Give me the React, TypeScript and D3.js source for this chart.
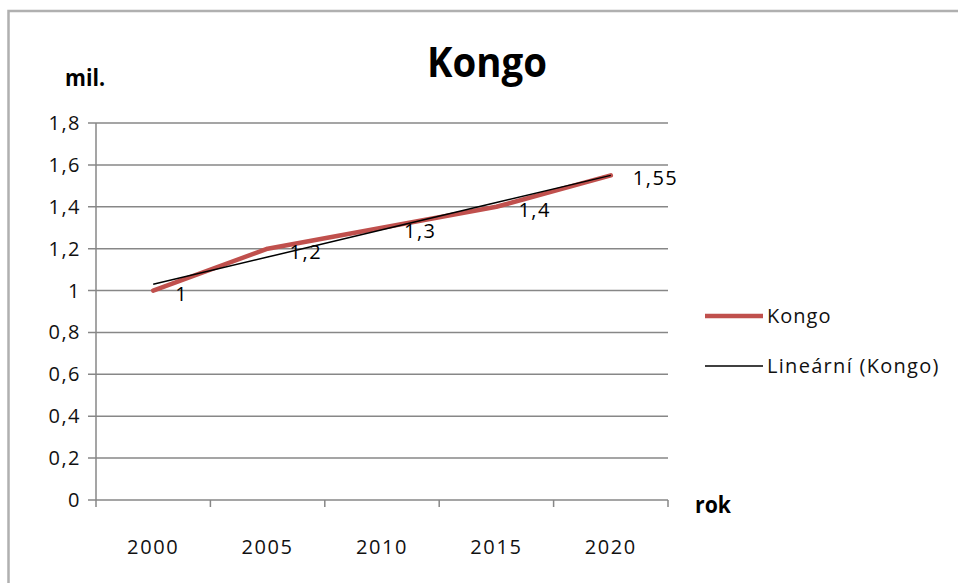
import React from "react";
import * as d3 from "d3";

const categories = ["2000", "2005", "2010", "2015", "2020"];
const values = [1, 1.2, 1.3, 1.4, 1.55];
const labels = ["1", "1,2", "1,3", "1,4", "1,55"];
const yTicks = [0, 0.2, 0.4, 0.6, 0.8, 1, 1.2, 1.4, 1.6, 1.8];
const seriesName = "Kongo";
const trendName = "Lineární (Kongo)";

const W = 958;
const H = 583;
const plot = { left: 96, right: 668, top: 123, bottom: 500 };
const FONT = "'Open Sans', 'Liberation Sans', sans-serif";

export default function App() {
  const x = d3
    .scaleBand<string>()
    .domain(categories)
    .range([plot.left, plot.right])
    .paddingInner(0)
    .paddingOuter(0);
  const y = d3.scaleLinear().domain([0, 1.8]).range([plot.bottom, plot.top]);
  const cx = (c: string) => (x(c) as number) + x.bandwidth() / 2;
  const fmt = (v: number) => (Math.round(v * 10) / 10).toString().replace(".", ",");

  // linear trend
  const xs = values.map((_, i) => i + 1);
  const mx = d3.mean(xs) as number;
  const my = d3.mean(values) as number;
  const slope =
    d3.sum(xs.map((xi, i) => (xi - mx) * (values[i] - my))) /
    d3.sum(xs.map((xi) => (xi - mx) ** 2));
  const intercept = my - slope * mx;
  const trend = xs.map((xi) => intercept + slope * xi);

  const line = d3
    .line<number>()
    .x((_, i) => cx(categories[i]))
    .y((d) => y(d));

  const boundaries = [...categories.map((c) => x(c) as number), plot.right];

  return (
    <svg
      width={W}
      height={H}
      style={{ position: "absolute", left: 0, top: 0, background: "#fff" }}
    >
      <rect x={8.5} y={11} width={W + 20} height={H + 20} fill="#fff" stroke="#b0b0b0" strokeWidth={2.5} />
      {yTicks.map((t) => (
        <line
          key={t}
          x1={plot.left - 8}
          x2={plot.right}
          y1={y(t)}
          y2={y(t)}
          stroke="#878787"
          strokeWidth={1.5}
        />
      ))}
      <line x1={plot.left} x2={plot.left} y1={plot.top} y2={plot.bottom} stroke="#878787" strokeWidth={1.5} />
      {boundaries.map((b, i) => (
        <line key={i} x1={b} x2={b} y1={plot.bottom} y2={plot.bottom + 7} stroke="#878787" strokeWidth={1.5} />
      ))}
      {yTicks.map((t) => (
        <text
          key={t}
          x={81}
          y={y(t)}
          dy="0.35em"
          textAnchor="end"
          fontFamily={FONT}
          fontSize={20}
          letterSpacing={1.5}
          fill="#111"
        >
          {fmt(t)}
        </text>
      ))}
      {categories.map((c) => (
        <text
          key={c}
          x={cx(c)}
          y={554}
          textAnchor="middle"
          fontFamily={FONT}
          fontSize={20}
          letterSpacing={1.6}
          fill="#111"
        >
          {c}
        </text>
      ))}
      <path d={line(values) || ""} fill="none" stroke="#c0504d" strokeWidth={4.5} strokeLinejoin="round" strokeLinecap="round" />
      <path d={line(trend) || ""} fill="none" stroke="#000" strokeWidth={1.5} />
      {values.map((v, i) => (
        <text
          key={i}
          x={cx(categories[i]) + 22}
          y={y(v) + 3}
          dy="0.35em"
          fontFamily={FONT}
          fontSize={20}
          letterSpacing={1.5}
          fill="#000"
        >
          {labels[i]}
        </text>
      ))}
      <text x={487} y={77} textAnchor="middle" fontFamily="'Open Sans', Roboto, sans-serif" fontWeight="bold" fontSize={42} fill="#000" textLength={120} lengthAdjust="spacingAndGlyphs">
        Kongo
      </text>
      <text x={65} y={86} fontFamily="'Open Sans', Roboto, sans-serif" fontWeight="bold" fontSize={23} fill="#000" textLength={40} lengthAdjust="spacingAndGlyphs">
        mil.
      </text>
      <text x={695} y={513} fontFamily="'Open Sans', Roboto, sans-serif" fontWeight="bold" fontSize={23} fill="#000" textLength={36} lengthAdjust="spacingAndGlyphs">
        rok
      </text>
      <line x1={705} x2={763} y1={316} y2={316} stroke="#c0504d" strokeWidth={4.5} />
      <text x={767} y={316} dy="0.35em" fontFamily={FONT} fontSize={20} letterSpacing={1} fill="#111">
        {seriesName}
      </text>
      <line x1={705} x2={763} y1={366} y2={366} stroke="#000" strokeWidth={1.5} />
      <text x={767} y={366} dy="0.35em" fontFamily={FONT} fontSize={20} letterSpacing={1.3} fill="#111">
        {trendName}
      </text>
    </svg>
  );
}
